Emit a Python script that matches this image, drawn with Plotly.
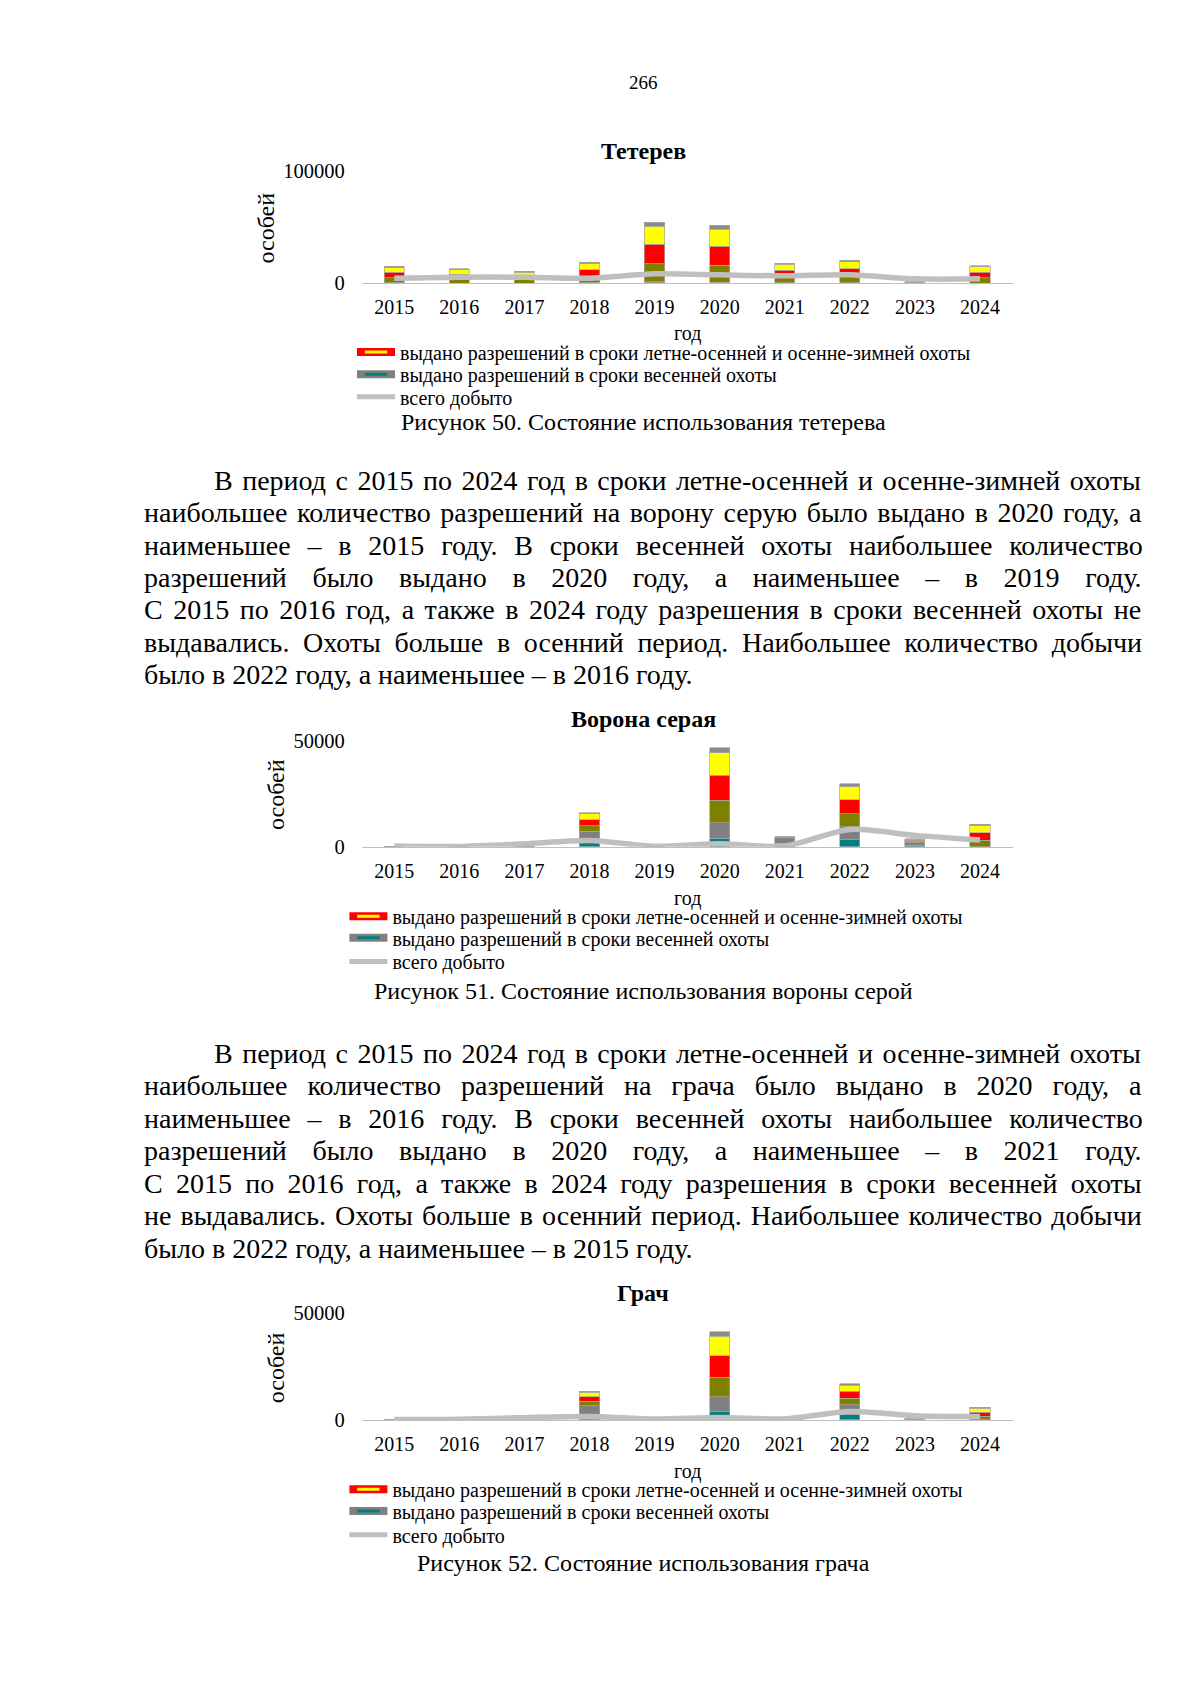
import plotly.graph_objects as go

# ---------------- data ----------------
years = ["2015", "2016", "2017", "2018", "2019", "2020", "2021", "2022", "2023", "2024"]

teterev_autumn = [14400, 12900, 10500, 18100, 53400, 50600, 17500, 19800, 1500, 15600]
teterev_spring = [600, 0, 0, 500, 1200, 1000, 500, 600, 0, 0]
teterev_total = [4500, 5400, 5400, 4500, 8400, 7500, 6600, 7500, 3900, 3900]
teterev_yticks = [0, 100000]
teterev_yticklabels = ["0", "100000"]

vorona_autumn = [30, 80, 400, 8700, 200, 35400, 300, 20300, 1800, 10600]
vorona_spring = [0, 0, 300, 7400, 100, 11400, 4500, 9500, 2000, 0]
vorona_total = [400, 150, 1400, 3000, 300, 1400, 350, 8200, 5400, 3200]
vorona_yticks = [0, 50000]
vorona_yticklabels = ["0", "50000"]

grach_autumn = [300, 100, 800, 6700, 400, 30200, 500, 9700, 600, 5900]
grach_spring = [0, 0, 1200, 6700, 200, 10900, 100, 7200, 300, 0]
grach_total = [200, 300, 1100, 1600, 500, 1200, 500, 4000, 2000, 1600]
grach_yticks = [0, 50000]
grach_yticklabels = ["0", "50000"]

legend_names = [
    "выдано разрешений в сроки летне-осенней и осенне-зимней охоты",
    "выдано разрешений в сроки весенней охоты",
    "всего добыто",
]

para1 = [
    "В период с 2015 по 2024 год в сроки летне-осенней и осенне-зимней охоты",
    "наибольшее количество разрешений на ворону серую было выдано в 2020 году, а",
    "наименьшее – в 2015 году. В сроки весенней охоты наибольшее количество",
    "разрешений было выдано в 2020 году, а наименьшее – в 2019 году.",
    "С 2015 по 2016 год, а также в 2024 году разрешения в сроки весенней охоты не",
    "выдавались. Охоты больше в осенний период. Наибольшее количество добычи",
    "было в 2022 году, а наименьшее – в 2016 году.",
]
para2 = [
    "В период с 2015 по 2024 год в сроки летне-осенней и осенне-зимней охоты",
    "наибольшее количество разрешений на грача было выдано в 2020 году, а",
    "наименьшее – в 2016 году. В сроки весенней охоты наибольшее количество",
    "разрешений было выдано в 2020 году, а наименьшее – в 2021 году.",
    "С 2015 по 2016 год, а также в 2024 году разрешения в сроки весенней охоты",
    "не выдавались. Охоты больше в осенний период. Наибольшее количество добычи",
    "было в 2022 году, а наименьшее – в 2015 году.",
]

# ---------------- styling ----------------
W, H = 1200, 1697
SERIF = "Liberation Serif, Times New Roman, serif"
GRAY_LINE = "#bfbfbf"
BAR_EDGE = "#a6a6a6"

# word spacing (px) used to justify each paragraph line (last line is not justified)
para1_ws = [2.5, 2.6, 9.8, 18.6, 3.55, 6.7, None]
para2_ws = [2.5, 13.0, 9.8, 18.6, 6.3, 2.1, None]

# texture of the picture-filled bars (bottom -> top)
AUTUMN_TEXTURE = [("#808000", 0.30), ("#ff0000", 0.33), ("#ffff00", 0.30), ("#8c8c8c", 0.07)]
SPRING_TEXTURE = [("#008080", 0.35), ("#808080", 0.65)]

DY = -1.6  # global vertical nudge


def px(x):
    return x / W


def py(y):
    return 1 - (y + DY) / H


PLOT_L, PLOT_R = 353.7, 1004.5
PLOT_C = (PLOT_L + PLOT_R) / 2
TEXT_C = 635.3

charts = [
    dict(title="Тетерев", caption="Рисунок 50. Состояние использования тетерева",
         autumn=teterev_autumn, spring=teterev_spring, total=teterev_total,
         yticks=teterev_yticks, yticklabels=teterev_yticklabels, grid=True,
         top=155.9, bottom=269.3, title_y=135.8, ylab_x=258.4, ylab_y=213.5,
         god_y=320.4, leg_x=344.0, leg_rows=[338.9, 361.6, 384.4], cap_y=409.6),
    dict(title="Ворона серая", caption="Рисунок 51. Состояние использования вороны серой",
         autumn=vorona_autumn, spring=vorona_spring, total=vorona_total,
         yticks=vorona_yticks, yticklabels=vorona_yticklabels, grid=False,
         top=732.9, bottom=840.3, title_y=711.1, ylab_x=268.2, ylab_y=787.7,
         god_y=892.6, leg_x=336.4, leg_rows=[910.6, 932.5, 956.4], cap_y=986.0),
    dict(title="Грач", caption="Рисунок 52. Состояние использования грача",
         autumn=grach_autumn, spring=grach_spring, total=grach_total,
         yticks=grach_yticks, yticklabels=grach_yticklabels, grid=True,
         top=1312.5, bottom=1421.0, title_y=1292.3, ylab_x=268.2, ylab_y=1368.4,
         god_y=1472.7, leg_x=336.4, leg_rows=[1491.1, 1513.1, 1537.2], cap_y=1565.7),
]

leg_styles = [
    dict(mode="lines+markers", line=dict(color="#ff0000", width=8),
         marker=dict(symbol="line-ew", size=16, line=dict(color="#ffff00", width=3))),
    dict(mode="lines+markers", line=dict(color="#808080", width=8),
         marker=dict(symbol="line-ew", size=16, line=dict(color="#008080", width=3))),
    dict(mode="lines", line=dict(color=GRAY_LINE, width=5)),
]

fig = go.Figure()
annotations = []
layout_extra = {}
leg_counter = 0

for i, c in enumerate(charts):
    n = "" if i == 0 else str(i + 1)
    xa, ya = "x" + n, "y" + n

    for color, frac in SPRING_TEXTURE:
        fig.add_trace(go.Bar(x=years, y=[v * frac for v in c["spring"]], xaxis=xa, yaxis=ya,
                             marker=dict(color=color, line=dict(width=0.7, color=BAR_EDGE)),
                             width=0.31, showlegend=False, hoverinfo="skip"))
    for color, frac in AUTUMN_TEXTURE:
        fig.add_trace(go.Bar(x=years, y=[v * frac for v in c["autumn"]], xaxis=xa, yaxis=ya,
                             marker=dict(color=color, line=dict(width=0.7, color=BAR_EDGE)),
                             width=0.31, showlegend=False, hoverinfo="skip"))
    fig.add_trace(go.Scatter(x=years, y=c["total"], xaxis=xa, yaxis=ya, mode="lines",
                             line=dict(color=GRAY_LINE, width=5.5, shape="spline", smoothing=0.8),
                             showlegend=False, hoverinfo="skip"))

    for name, st, row_y in zip(legend_names, leg_styles, c["leg_rows"]):
        leg_counter += 1
        leg = "legend" if leg_counter == 1 else "legend" + str(leg_counter)
        fig.add_trace(go.Scatter(x=[None], y=[None], xaxis=xa, yaxis=ya, name=name,
                                 legend=leg, showlegend=True, **st))
        layout_extra[leg] = dict(
            x=px(c["leg_x"]), y=py(row_y), xanchor="left", yanchor="middle",
            orientation="v", bgcolor="rgba(0,0,0,0)", borderwidth=0, itemwidth=38,
            font=dict(family=SERIF, size=20, color="black"),
            itemclick=False, itemdoubleclick=False)

    layout_extra["xaxis" + n] = dict(
        domain=[px(PLOT_L), px(PLOT_R)], anchor=ya, type="category",
        showgrid=False, showline=True, linecolor=GRAY_LINE, linewidth=1,
        ticks="", ticklabelstandoff=6, fixedrange=True,
        tickfont=dict(family=SERIF, size=20, color="black"))
    layout_extra["yaxis" + n] = dict(
        domain=[py(c["bottom"]), py(c["top"])], anchor=xa,
        range=[0, c["yticks"][-1]], tickvals=c["yticks"], ticktext=c["yticklabels"],
        showgrid=c["grid"], gridcolor=GRAY_LINE, gridwidth=1, zeroline=False,
        showline=False, ticks="", ticklabelstandoff=16, fixedrange=True,
        tickfont=dict(family=SERIF, size=20.5, color="black"))

    annotations += [
        dict(text="<b>" + c["title"] + "</b>", x=px(TEXT_C), y=py(c["title_y"]),
             font=dict(family=SERIF, size=24, color="black")),
        dict(text="особей", x=px(c["ylab_x"]), y=py(c["ylab_y"]), textangle=-90,
             font=dict(family=SERIF, size=24, color="black")),
        dict(text="год", x=px(PLOT_C), y=py(c["god_y"]),
             font=dict(family=SERIF, size=20, color="black")),
        dict(text=c["caption"], x=px(TEXT_C), y=py(c["cap_y"]),
             font=dict(family=SERIF, size=24, color="black")),
    ]

annotations.append(dict(text="266", x=px(TEXT_C), y=py(65.5),
                        font=dict(family=SERIF, size=19, color="black")))

LINE_STEP = 32.87
for lines, wss, y0 in [(para1, para1_ws, 468.8), (para2, para2_ws, 1049.6)]:
    for k, (line, ws) in enumerate(zip(lines, wss)):
        txt = line if ws is None else '<span style="word-spacing:%.2fpx">%s</span>' % (ws, line)
        annotations.append(dict(text=txt, x=px(204.2 if k == 0 else 133.8), y=py(y0 + k * LINE_STEP),
                                xanchor="left", font=dict(family=SERIF, size=28, color="black")))

for a in annotations:
    a.setdefault("xref", "paper")
    a.setdefault("yref", "paper")
    a.setdefault("showarrow", False)
    a.setdefault("xanchor", "center")
    a.setdefault("yanchor", "middle")

fig.update_layout(
    width=W, height=H, margin=dict(l=0, r=0, t=0, b=0),
    paper_bgcolor="white", plot_bgcolor="white",
    barmode="stack",
    annotations=annotations,
    **layout_extra,
)

fig.write_html("out.html", config={"displayModeBar": False})
